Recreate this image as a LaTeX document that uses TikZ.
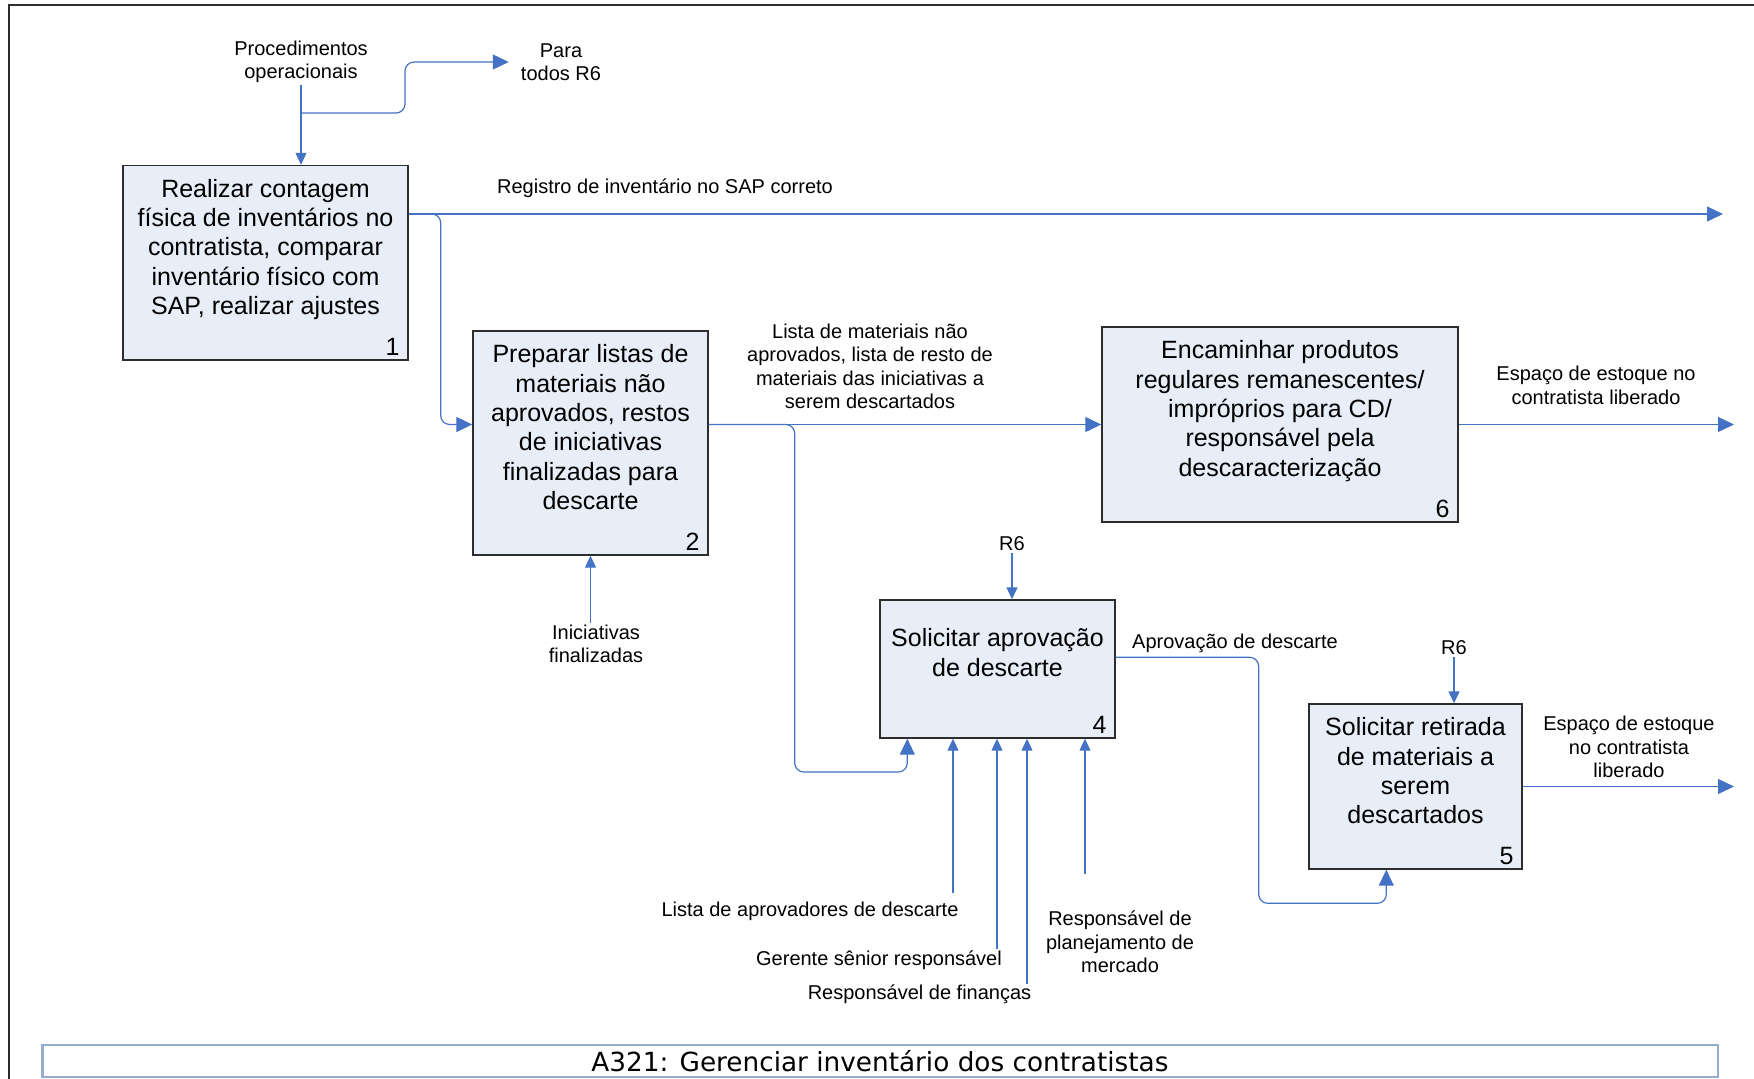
\documentclass[tikz,border=0pt]{standalone}
\usepackage{fontspec}
\setmainfont{Liberation Sans}
\newfontfamily\titlefont{DejaVu Sans}
\usepackage{tikz}
\usetikzlibrary{positioning,fit,arrows.meta}
\definecolor{boxfill}{RGB}{232,238,248}
\definecolor{flowblue}{RGB}{68,114,196}
\definecolor{boxline}{RGB}{45,45,45}
\definecolor{titleline}{RGB}{150,172,205}

\begin{document}
\begin{tikzpicture}[x=1pt, y=-1pt,
    procbox/.style={draw=boxline, line width=1.4pt, fill=boxfill, inner sep=0pt},
    boxtext/.style={font=\fontsize{25}{29.4}\selectfont, align=center, inner sep=0pt},
    boxnum/.style={font=\fontsize{25}{29.4}\selectfont, inner xsep=9pt, inner ysep=5pt, anchor=south east},
    lbl/.style={font=\fontsize{20}{23.5}\selectfont, align=center, inner sep=2pt},
    flow/.style={color=flowblue, line width=1.2pt, -{Triangle[length=16pt,width=15pt]}, rounded corners=9pt},
    flowsm/.style={color=flowblue, line width=1.2pt, -{Triangle[length=12pt,width=11pt]}}]
    \useasboundingbox (0,0) rectangle (1754,1079);
    \draw[boxline, line width=1.2pt] (1754,5) -- (9,5) -- (9,1079);

    \node[procbox, fit={(123,165.5) (408,360)}] (b1) {};
    \node[procbox, fit={(473,331) (708,555)}] (b2) {};
    \node[procbox, fit={(1102,327) (1458,522)}] (b6) {};
    \node[procbox, fit={(880,600) (1115,738)}] (b4) {};
    \node[procbox, fit={(1309,704) (1522,869)}] (b5) {};

    \node[boxtext, below=14pt of b1.north] (t1) {Realizar contagem\\física de inventários no\\contratista, comparar\\inventário físico com\\SAP, realizar ajustes};
    \node[boxtext, below=14pt of b2.north] (t2) {Preparar listas de\\materiais não\\aprovados, restos\\de iniciativas\\finalizadas para\\descarte};
    \node[boxtext, below=14pt of b6.north] (t6) {Encaminhar produtos\\regulares remanescentes/\\impróprios para CD/\\responsável pela\\descaracterização};
    \node[boxtext, below=29pt of b4.north] (t4) {Solicitar aprovação\\de descarte};
    \node[boxtext, below=14pt of b5.north] (t5) {Solicitar retirada\\de materiais a\\serem\\descartados};

    \node[boxnum] (n1) at (b1.south east) {1};
    \node[boxnum] (n2) at (b2.south east) {2};
    \node[boxnum] (n6) at (b6.south east) {6};
    \node[boxnum] (n4) at (b4.south east) {4};
    \node[boxnum] (n5) at (b5.south east) {5};

    \node[lbl] (lproc) at (301,62) {Procedimentos\\operacionais};
    \node[lbl] (lpara) at (561,62) {Para\\todos R6};
    \node[lbl] (lreg) at (665,188) {Registro de inventário no SAP correto};
    \node[lbl] (llista) at (870,366.5) {Lista de materiais não\\aprovados, lista de resto de\\materiais das iniciativas a\\serem descartados};
    \node[lbl] (lesp1) at (1596,385.5) {Espaço de estoque no\\contratista liberado};
    \node[lbl] (lini) at (596,644) {Iniciativas\\finalizadas};
    \node[lbl] (lr6a) at (1012,544) {R6};
    \node[lbl] (laprov) at (1235,643) {Aprovação de descarte};
    \node[lbl] (lr6b) at (1454,648) {R6};
    \node[lbl] (lesp2) at (1629,747) {Espaço de estoque\\no contratista\\liberado};
    \node[lbl] (lap) at (810,911) {Lista de aprovadores de descarte};
    \node[lbl] (lger) at (879,960) {Gerente sênior responsável};
    \node[lbl] (lfin) at (919.5,994.5) {Responsável de finanças};
    \node[lbl] (lplan) at (1120,942) {Responsável de\\planejamento de\\mercado};

    \coordinate (pbr) at (301,113);
    \coordinate (o1) at (1723,214);
    \coordinate (e5) at (1734,786.5);
    \coordinate (m1) at (953,893);
    \coordinate (m2) at (997,949);
    \coordinate (m3) at (1027,984);
    \coordinate (m4) at (1085,874);

    \draw[flowsm] (lproc.south) -- (lproc.south |- b1.north);
    \draw[flow] (pbr) -- ++(104,0) |- ([xshift=-10pt]lpara.west);
    \draw[flow] (b1.east |- o1) -- (o1);
    \draw[flow] (b1.east |- o1) -- ++(32,0) |- (b2.west |- b6.west);
    \draw[flow] (b2.east |- b6.west) -- (b6.west);
    \draw[flow] (b2.east |- b6.west) -- ++(86,0) -- ++(0,347.5) -| ([xshift=28pt]b4.south west);
    \draw[flowsm] (lini.north -| b2.south) -- (b2.south);
    \draw[flowsm] (lr6a.south) -- (lr6a.south |- b4.north);
    \draw[flowsm] (m1) -- (m1 |- b4.south);
    \draw[flowsm] (m2) -- (m2 |- b4.south);
    \draw[flowsm] (m3) -- (m3 |- b4.south);
    \draw[flowsm] (m4) -- (m4 |- b4.south);
    \draw[flow] ([yshift=-58pt]b4.north east) -- ++(143,0) -- ++(0,246) -| ([xshift=78pt]b5.south west);
    \draw[flowsm] (lr6b.south) -- (lr6b.south |- b5.north);
    \draw[flow] (b6.east) -- (b6.east -| e5);
    \draw[flow] (b5.east) -- (b5.east -| e5);

    \node[draw=titleline, line width=2.5pt, minimum width=1675.5pt, minimum height=32pt, inner sep=0pt, font=\titlefont\fontsize{26.3}{31}\selectfont] (title) at (880,1061) {A321: Gerenciar inventário dos contratistas};
\end{tikzpicture}
\end{document}
